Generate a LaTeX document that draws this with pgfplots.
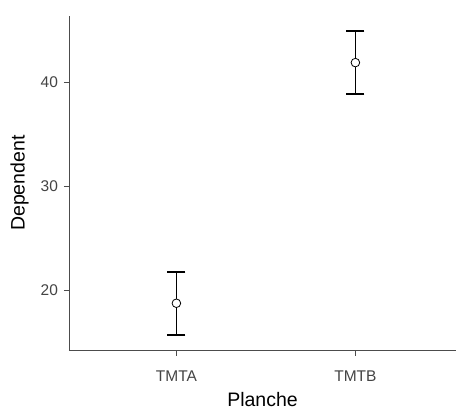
\documentclass[border=0pt]{standalone}
\usepackage{fontspec}
\setmainfont{Liberation Sans}
\usepackage{pgfplots}
\pgfplotsset{compat=1.18}
\definecolor{ticklab}{HTML}{444444}
\pgfplotstableread{
x y ep em
1 18.75 3.01 3.09
2 41.93 3.05 3.02
}\datatab
\pgfplotstableread{
x lo hi
1 15.66 21.76
2 38.91 44.98
}\bartab
\begin{document}
\begin{tikzpicture}
\useasboundingbox (-69bp,-60.3bp) rectangle (388bp,350.7bp);
\begin{axis}[
  at={(0,0)}, anchor=origin,
  scale only axis,
  width=387bp, height=335bp,
  xmin=0.4, xmax=2.562,
  ymin=14.18, ymax=46.45,
  axis lines=left,
  axis line style={black!70, line width=0.9bp, -},
  xtick={1,2}, xticklabels={TMTA,TMTB},
  ytick={20,30,40},
  tick align=outside,
  tick pos=left,
  major tick length=5bp,
  major tick style={black!70, line width=1bp},
  /pgf/number format/assume math mode=true,
  ticklabel style={font=\fontsize{15.5bp}{18bp}\selectfont, text=ticklab},
  xticklabel style={anchor=base, yshift=-26bp},
  yticklabel style={anchor=east, xshift=-2.5bp},
  xlabel={Planche}, ylabel={Dependent},
  label style={font=\fontsize{19.5bp}{22bp}\selectfont, text=black},
  xlabel style={at={(axis description cs:0.5,0)}, anchor=base, yshift=-56bp},
  ylabel style={at={(axis description cs:-0.1279,0.5)}, anchor=center},
  clip=false,
]
% vertical error-bar lines
\addplot[black, line width=1.8bp, forget plot] table[x=x, y=lo] {
x lo
1 15.66
1 21.76
};
\addplot[black, line width=1.8bp, forget plot] table[x=x, y=lo] {
x lo
2 38.91
2 44.98
};
% caps
\addplot[only marks, mark=-, mark size=9bp, mark options={black, line width=1.8bp}] table[x=x, y=lo] {\bartab};
\addplot[only marks, mark=-, mark size=9bp, mark options={black, line width=1.8bp}] table[x=x, y=hi] {\bartab};
% means
\addplot[
  only marks,
  mark=*, mark size=4.3bp,
  mark options={fill=white, draw=black, line width=0.8bp},
] table[x=x, y=y] {\datatab};
\end{axis}
\end{tikzpicture}
\end{document}
